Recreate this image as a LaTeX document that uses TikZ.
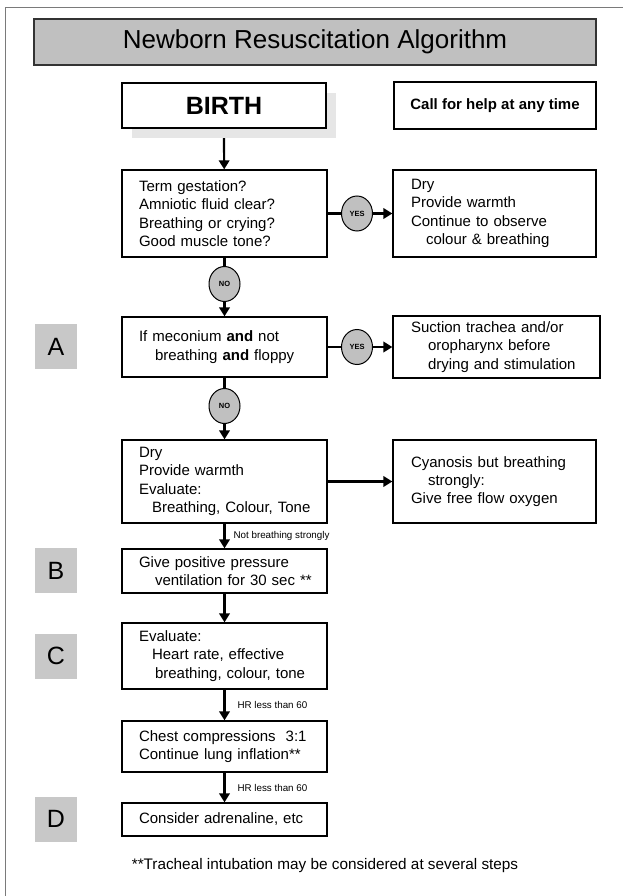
\documentclass[tikz,border=0pt]{standalone}
\usepackage{fontspec}
\setmainfont{Liberation Sans}
\usetikzlibrary{shapes.geometric, arrows.meta}
\definecolor{titlegray}{HTML}{C0C0C0}
\definecolor{lettergray}{HTML}{C8C8C8}
\definecolor{shadowgray}{HTML}{E6E6E6}
\definecolor{framegray}{HTML}{7A7A7A}

\begin{document}
\begin{tikzpicture}[x=1pt,y=-1pt,
  box/.style={draw,line width=1.3pt,rectangle,align=left,inner xsep=17pt,text width=171pt,font=\fontsize{15}{18.3}\selectfont},
  sidebox/.style={box,inner xsep=18pt,text width=167pt},
  letterbox/.style={fill=lettergray,minimum width=42pt,minimum height=45pt,inner sep=0pt,font=\fontsize{25}{30}\selectfont},
  answer/.style={draw,ellipse,fill=titlegray,line width=1pt,minimum width=31pt,minimum height=35pt,inner sep=0pt,font=\bfseries\fontsize{7.5}{9}\selectfont},
  note/.style={anchor=west,inner sep=0pt,font=\fontsize{9.8}{11}\selectfont},
  link/.style={line width=2.2pt},
  arr/.style={link,-{Triangle[width=10.5pt,length=9pt]}}]
  \useasboundingbox (0,0) rectangle (622,896);
  \draw[framegray,line width=1pt] (5,900) -- (5,8) -- (630,8);
  \node[draw=black!80,line width=1.4pt,fill=titlegray,minimum width=562pt,minimum height=46pt,font=\fontsize{26}{30}\selectfont] (title) at (315,42) {Newborn Resuscitation Algorithm};
  \node[fill=shadowgray,minimum width=204pt,minimum height=45pt] (birthshadow) at (234,115.5) {};
  \node[draw,line width=1.3pt,fill=white,minimum width=204pt,minimum height=45pt,font=\bfseries\fontsize{25}{30}\selectfont] (birth) at (224,105.5) {BIRTH};
  \node[draw,line width=1.3pt,minimum width=202pt,minimum height=47pt,font=\bfseries\fontsize{15}{18}\selectfont] (help) at (495,105.5) {Call for help at any time};
  \coordinate (birthfoot) at (birth.south |- birthshadow.south);

  \path (224.5,213.5) node[box,minimum height=87pt] (term) {Term gestation?\\Amniotic fluid clear?\\Breathing or crying?\\Good muscle tone?}
  (357,213.5) node[answer] (yes1) {YES}
  (494.5,213.5) node[sidebox,minimum height=87pt] (warm) {Dry\\Provide warmth\\Continue to observe\\\hspace*{15pt}colour \& breathing}
  (224.5,284) node[answer] (no1) {NO}
  (56,346.5) node[letterbox] (lA) {A}
  (224.5,347) node[box,minimum height=60pt] (meco) {If meconium \textbf{and} not\\\hspace*{16pt}breathing \textbf{and} floppy}
  (357,347) node[answer] (yes2) {YES}
  (496.5,347) node[sidebox,minimum height=62pt,text width=171pt] (suction) {Suction trachea and/or\\\hspace*{17pt}oropharynx before\\\hspace*{17pt}drying and stimulation}
  (224.5,406) node[answer] (no2) {NO}
  (224.5,481.5) node[box,minimum height=83pt] (dry) {Dry\\Provide warmth\\Evaluate:\\\hspace*{13pt}\mbox{Breathing, Colour, Tone}}
  (494.5,481.5) node[sidebox,minimum height=83pt] (cyan) {Cyanosis but breathing\\\hspace*{17pt}strongly:\\Give free flow oxygen}
  (56,570.5) node[letterbox] (lB) {B}
  (224.5,571) node[box,minimum height=44pt] (ppv) {Give positive pressure\\\hspace*{16pt}\mbox{ventilation for 30 sec **}}
  (56,656) node[letterbox] (lC) {C}
  (224.5,656) node[box,minimum height=66pt] (heart) {Evaluate:\\\hspace*{13pt}Heart rate, effective\\\hspace*{16pt}\mbox{breathing, colour, tone}}
  (224.5,746.5) node[box,minimum height=51pt] (chest) {Chest compressions\ \ 3:1\\Continue lung inflation**}
  (56,819) node[letterbox] (lD) {D}
  (224.5,819.5) node[box,minimum height=33pt] (adren) {Consider adrenaline, etc}
  (325,866) node[font=\fontsize{15.3}{18}\selectfont] (footnote) {**Tracheal intubation may be considered at several steps};

  \draw[arr] (birthfoot) -- (term);
  \draw[link] (term) -- (yes1);
  \draw[arr] (yes1) -- (warm);
  \draw[link] (term) -- (no1);
  \draw[arr] (no1) -- (meco);
  \draw[link] (meco) -- (yes2);
  \draw[arr] (yes2) -- (suction);
  \draw[link] (meco) -- (no2);
  \draw[arr] (no2) -- (dry);
  \draw[arr] (dry) -- (cyan);
  \draw[arr] (dry) -- (ppv) node[note,midway,xshift=8pt] {Not breathing strongly};
  \draw[arr] (ppv) -- (heart);
  \draw[arr] (heart) -- (chest) node[note,midway,xshift=12pt] {HR less than 60};
  \draw[arr] (chest) -- (adren) node[note,midway,xshift=12pt] {HR less than 60};
\end{tikzpicture}
\end{document}
